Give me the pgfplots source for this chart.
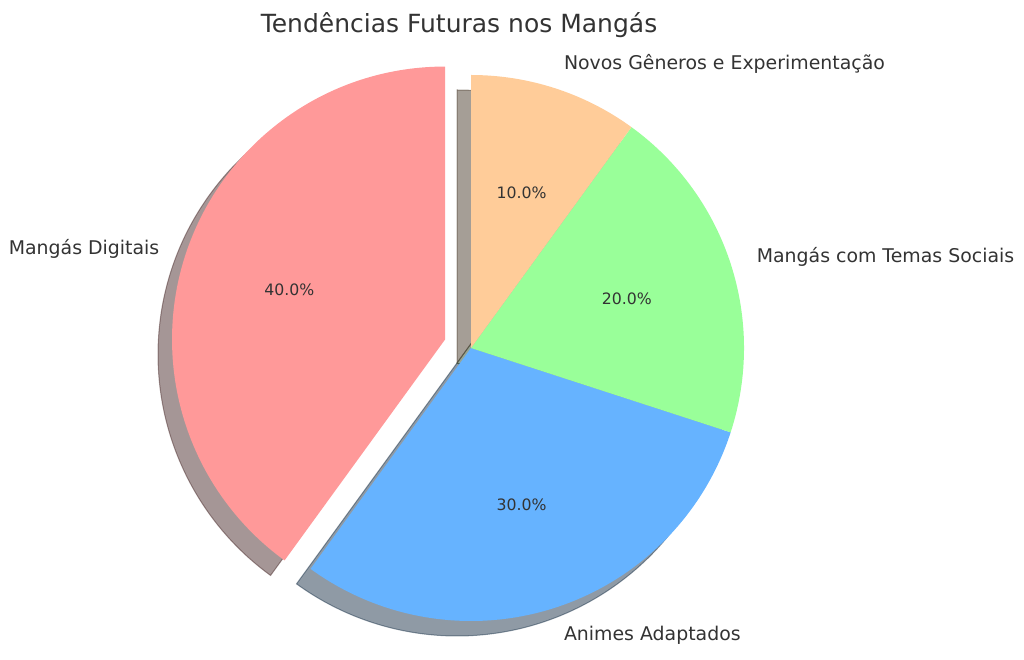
\documentclass[border=0pt]{standalone}
\usepackage{pgfplots}
\pgfplotsset{compat=1.18}
\usepackage{fontspec}
\setmainfont{DejaVu Sans}
\definecolor{txt}{HTML}{333333}
\definecolor{c1}{HTML}{FF9999}
\definecolor{c2}{HTML}{66B3FF}
\definecolor{c3}{HTML}{99FF99}
\definecolor{c4}{HTML}{FFCC99}
\def\R{273}
\def\CX{471}
\def\CY{312}
% value / colour / explode / label anchor / label
\def\piedata{40/c1/0.1/east/Mangás Digitais,30/c2/0/west/Animes Adaptados,20/c3/0/west/Mangás com Temas Sociais,10/c4/0/west/Novos Gêneros e Experimentação}
\begin{document}
\begin{tikzpicture}
\begin{axis}[x=1bp,y=1bp,xmin=0,xmax=1024,ymin=0,ymax=660,hide axis,clip=false,scale only axis]
\coordinate (bl) at (axis cs:0,0);
\coordinate (tr) at (axis cs:1024,660);
% shadows
\gdef\s{90}
\foreach \v/\col/\ex/\anc/\lab in \piedata {
  \pgfmathsetmacro\e{\s+3.6*\v}
  \pgfmathsetmacro\m{(\s+\e)/2}
  \pgfmathsetmacro\cx{\CX+\ex*\R*cos(\m)-14}
  \pgfmathsetmacro\cy{\CY+\ex*\R*sin(\m)-15}
  \edef\tmp{\noexpand\filldraw[fill=\col!30!black,draw=\col!30!black,fill opacity=0.5,draw opacity=0.5,line width=1bp] (axis cs:\cx,\cy) -- ++(\s:\R bp) arc[start angle=\s,end angle=\e,radius=\R bp] -- cycle;}
  \tmp
  \xdef\s{\e}
}
% wedges and labels
\gdef\s{90}
\foreach \v/\col/\ex/\anc/\lab in \piedata {
  \pgfmathsetmacro\e{\s+3.6*\v}
  \pgfmathsetmacro\m{(\s+\e)/2}
  \pgfmathsetmacro\cx{\CX+\ex*\R*cos(\m)}
  \pgfmathsetmacro\cy{\CY+\ex*\R*sin(\m)}
  \pgfmathsetmacro\lx{\cx+1.1*\R*cos(\m)}
  \pgfmathsetmacro\ly{\cy+1.1*\R*sin(\m)-2}
  \pgfmathsetmacro\px{\cx+0.6*\R*cos(\m)}
  \pgfmathsetmacro\py{\cy+0.6*\R*sin(\m)-1}
  \edef\tmp{\noexpand\fill[\col] (axis cs:\cx,\cy) -- ++(\s:\R bp) arc[start angle=\s,end angle=\e,radius=\R bp] -- cycle;
    \noexpand\node[anchor=\anc,inner sep=0pt,text=txt,font=\noexpand\fontsize{18.9bp}{22bp}\noexpand\selectfont] at (axis cs:\lx,\ly) {\lab};
    \noexpand\node[anchor=center,inner sep=0pt,text=txt,font=\noexpand\fontsize{15.7bp}{18bp}\noexpand\selectfont] at (axis cs:\px,\py) {\noexpand\pgfmathprintnumber[fixed,fixed zerofill,precision=1,assume math mode=true]{\v}\noexpand\%};}
  \tmp
  \xdef\s{\e}
}
\node[anchor=center,inner sep=0pt,text=txt,font=\fontsize{25bp}{29bp}\selectfont] at (axis cs:459,635) {Tendências Futuras nos Mangás};
\end{axis}
\pgfresetboundingbox
\path[use as bounding box] (bl) rectangle (tr);
\end{tikzpicture}
\end{document}
